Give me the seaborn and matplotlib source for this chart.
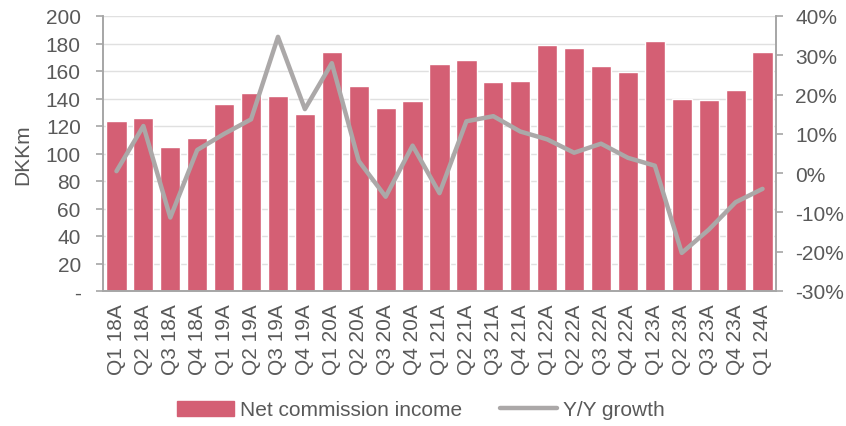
import matplotlib
matplotlib.use("Agg")
import matplotlib.pyplot as plt
import numpy as np
import pandas as pd
import seaborn as sns
from matplotlib.ticker import FuncFormatter, MultipleLocator

quarters = ["Q1 18A", "Q2 18A", "Q3 18A", "Q4 18A", "Q1 19A", "Q2 19A", "Q3 19A",
            "Q4 19A", "Q1 20A", "Q2 20A", "Q3 20A", "Q4 20A", "Q1 21A", "Q2 21A",
            "Q3 21A", "Q4 21A", "Q1 22A", "Q2 22A", "Q3 22A", "Q4 22A", "Q1 23A",
            "Q2 23A", "Q3 23A", "Q4 23A", "Q1 24A"]
commission = [124, 126, 105, 111, 136, 144, 142, 129, 174, 149, 133, 138, 165, 168,
              152, 153, 179, 177, 164, 159, 182, 140, 139, 146, 174]
growth = [0.5, 12.0, -11.3, 5.9, 10.0, 13.7, 34.7, 16.3, 28.0, 3.1, -6.0, 7.0, -5.1,
          13.2, 14.5, 10.6, 8.6, 5.2, 7.5, 3.9, 1.9, -20.3, -14.4, -7.4, -4.0]

bar_color = "#D45F74"
line_color = "#ABA8A8"
text_color = "#595959"
axis_color = "#A6A6A6"

sns.set_style("white")
plt.rcParams["font.family"] = ["Liberation Sans", "DejaVu Sans"]

df = pd.DataFrame({"quarter": quarters, "commission": commission,
                   "growth": growth, "pos": np.arange(len(quarters))})

fig = plt.figure(figsize=(8.46, 4.27), dpi=100)
ax = fig.add_axes([103 / 846, 1 - 292 / 427, (776 - 103) / 846, (292 - 17) / 427])

sns.barplot(data=df, x="quarter", y="commission", color=bar_color, saturation=1,
            width=0.75, ax=ax, zorder=2)
ax.set_xlim(-0.5, len(quarters) - 0.5)
ax.set_ylim(0, 200)
ax.yaxis.set_major_locator(MultipleLocator(20))
ax.yaxis.set_major_formatter(FuncFormatter(lambda v, p: "-" if v == 0 else f"{v:.0f}"))
ax.grid(axis="y", color="#E0E0E0", linewidth=1, zorder=0)
ax.set_axisbelow(True)
ax.set_xlabel("")
ax.set_ylabel("DKKm", fontsize=15, color=text_color)
ax.yaxis.set_label_coords(-0.105, 0.5)
ax.set_xticks(np.arange(len(quarters)))
ax.set_xticklabels(quarters, rotation=90)
ax.set_xticks(np.arange(len(quarters) + 1) - 0.5, minor=True)
ax.tick_params(axis="x", which="major", length=0, labelsize=15, labelcolor=text_color, pad=9)
ax.tick_params(axis="x", which="minor", length=5, color=axis_color, width=1.2)
ax.tick_params(axis="y", length=5, color=axis_color, width=1.2, labelsize=15,
               labelcolor=text_color, left=True, pad=11)

ax2 = ax.twinx()
sns.lineplot(data=df, x="pos", y="growth", color=line_color, linewidth=3.2, ax=ax2, zorder=3)
ax2.set_ylim(-30, 40)
ax2.yaxis.set_major_locator(MultipleLocator(10))
ax2.yaxis.set_major_formatter(FuncFormatter(lambda v, p: f"{v:.0f}%"))
ax2.set_ylabel("")
ax2.tick_params(axis="y", length=5, color=axis_color, width=1.2, labelsize=15,
                labelcolor=text_color, right=True, pad=9)

for a in (ax, ax2):
    a.spines["top"].set_visible(False)
    for s in ("left", "right", "bottom"):
        a.spines[s].set_color(axis_color)
        a.spines[s].set_linewidth(1.2)

handles = [plt.Rectangle((0, 0), 1, 1, color=bar_color),
           plt.Line2D([0], [0], color=line_color, linewidth=3.2)]
fig.legend(handles, ["Net commission income", "Y/Y growth"], loc="center",
           bbox_to_anchor=(421 / 846, 1 - 411 / 427), ncol=2, frameon=False,
           fontsize=15, labelcolor=text_color, handlelength=2.7, handletextpad=0.3,
           columnspacing=1.85)

fig.savefig("out.png", dpi=100)
